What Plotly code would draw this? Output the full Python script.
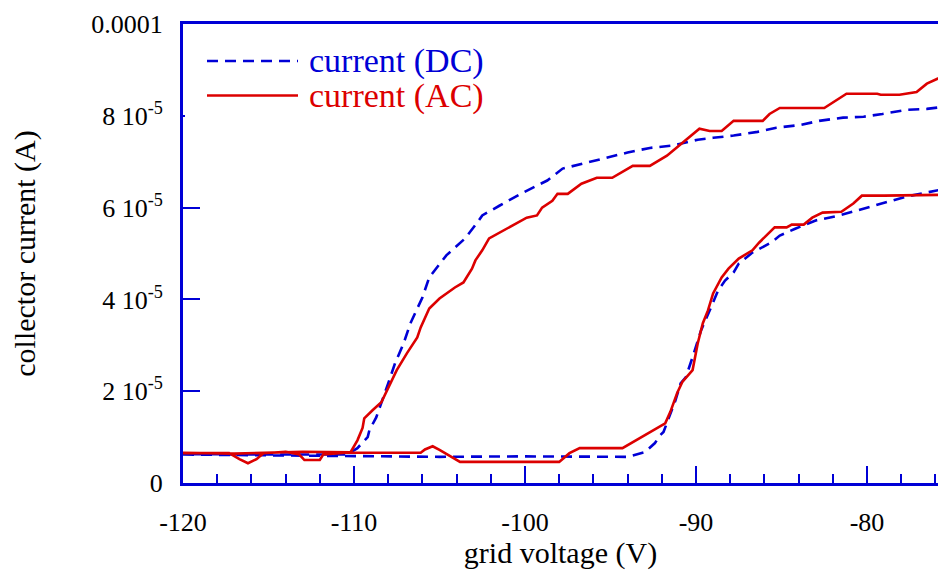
import plotly.graph_objects as go

# ---------------- data (current in units of 1e-5 A) ----------------
x_ticks = [-120, -110, -100, -90, -80]
x_ticktext = ["-120", "-110", "-100", "-90", "-80"]
y_tickvals = [0, 2e-5, 4e-5, 6e-5, 8e-5, 1e-4]
y_ticktext = ["0", "2 10<sup>-5</sup>", "4 10<sup>-5</sup>", "6 10<sup>-5</sup>",
              "8 10<sup>-5</sup>", "0.0001"]

# DC: increasing-voltage sweep
dc_up_v = [-120, -115, -110, -105, -100, -95, -94, -93.0, -92.4, -92.1, -91.9, -91.6,
           -91.2, -90.9, -90.6, -90.2, -89.7, -89.2, -88.7, -88.3, -87.8, -87.5, -86.7,
           -85.6, -85.1, -84.2, -83.0, -81.6, -80.2, -79.1, -77.7, -75.4]
dc_up_i = [0.62, 0.6, 0.58, 0.57, 0.58, 0.56, 0.57, 0.67, 0.87, 1.04, 1.11, 1.41,
           1.80, 2.17, 2.3, 2.74, 3.33, 3.76, 4.2, 4.41, 4.59, 4.78, 5.02,
           5.24, 5.39, 5.54, 5.72, 5.83, 5.98, 6.09, 6.24, 6.41]
# DC: decreasing-voltage sweep
dc_down_v = [-75.4, -76.5, -77.7, -79.1, -80.2, -81.4, -82.8, -83.9, -85.3, -86.4,
             -87.8, -89.0, -89.9, -91.4, -92.7, -94.0, -95.2, -96.4, -97.8, -98.7,
             -100.1, -101.5, -102.5, -102.8, -103.5, -104.6, -105.6, -106.0, -106.7,
             -107.1, -107.6, -108.0, -108.4, -108.7, -109.1, -109.2, -109.8, -110.4,
             -115, -120]
dc_down_i = [8.2, 8.15, 8.13, 8.04, 7.98, 7.96, 7.89, 7.8, 7.74, 7.65,
             7.57, 7.52, 7.48, 7.35, 7.3, 7.2, 7.09, 6.98, 6.85, 6.59,
             6.33, 6.04, 5.83, 5.67, 5.33, 4.96, 4.48, 4.04, 3.48,
             3.04, 2.61, 2.17, 1.74, 1.43, 1.15, 1.0, 0.76, 0.62,
             0.62, 0.63]

# AC: increasing-voltage sweep
ac_up_v = [-120, -117.3, -116.7, -116.2, -115.7, -115.3, -114.0, -113.2, -112.9, -112.0,
           -111.8, -110.5, -106.1, -105.85, -105.4, -105.0, -103.8, -98.0, -97.4, -96.8,
           -94.3, -93.7, -92.7, -91.8, -91.5, -91.1, -90.8, -90.2, -89.9, -89.6,
           -89.3, -89.0, -88.5, -88.1, -87.5, -86.7, -86.3, -85.4, -84.7, -84.4,
           -83.7, -83.2, -82.6, -81.5, -80.8, -80.3, -79.0, -75.4]
ac_up_i = [0.65, 0.65, 0.52, 0.43, 0.52, 0.65, 0.68, 0.62, 0.5, 0.5,
           0.62, 0.66, 0.66, 0.73, 0.8, 0.72, 0.46, 0.46, 0.65, 0.76,
           0.76, 0.89, 1.11, 1.30, 1.55, 1.96, 2.2, 2.46, 3.04, 3.48,
           3.76, 4.13, 4.48, 4.67, 4.89, 5.07, 5.24, 5.57, 5.57, 5.63,
           5.63, 5.78, 5.89, 5.91, 6.09, 6.26, 6.26, 6.28]
# AC: decreasing-voltage sweep
ac_down_v = [-75.4, -76.5, -77.1, -78.1, -79.2, -79.4, -81.2, -82.0, -82.5, -85.1,
             -85.7, -86.1, -87.8, -88.5, -89.2, -89.8, -90.5, -90.9, -91.7, -92.7,
             -93.7, -94.9, -95.8, -96.7, -97.5, -98.1, -98.4, -99.0, -99.3, -99.9,
             -100.9, -101.3, -102.1, -102.5, -102.9, -103.1, -103.6, -104.1, -105.0, -105.6,
             -106.1, -106.3, -106.9, -107.5, -108.0, -108.4, -108.9, -109.4, -109.5, -109.8,
             -110.2, -113.0, -117.0, -120]
ac_down_i = [8.89, 8.7, 8.52, 8.46, 8.46, 8.48, 8.48, 8.28, 8.17, 8.17,
             8.04, 7.89, 7.89, 7.67, 7.67, 7.72, 7.5, 7.39, 7.13, 6.91,
             6.91, 6.65, 6.65, 6.52, 6.3, 6.3, 6.15, 6.0, 5.83, 5.78,
             5.57, 5.5, 5.33, 5.07, 4.85, 4.67, 4.37, 4.26, 4.02, 3.8,
             3.39, 3.17, 2.83, 2.46, 2.09, 1.76, 1.59, 1.41, 1.2, 0.93,
             0.67, 0.68, 0.64, 0.66]

UNIT = 1e-5
BLUE = "#0000d6"
RED = "#dc0000"
FONT = "Liberation Serif, Times New Roman, serif"

dc_v = dc_up_v + dc_down_v
dc_i = [v * UNIT for v in dc_up_i + dc_down_i]
ac_v = ac_up_v + ac_down_v
ac_i = [v * UNIT for v in ac_up_i + ac_down_i]

fig = go.Figure()
fig.add_trace(go.Scatter(x=dc_v, y=dc_i, mode="lines", name="current (DC)",
                         line=dict(color=BLUE, width=2.6, dash="11px,7px"),
                         showlegend=False))
fig.add_trace(go.Scatter(x=ac_v, y=ac_i, mode="lines", name="current (AC)",
                         line=dict(color=RED, width=2.6),
                         showlegend=False))

# page body has an 8px margin: the figure sits at (8, 8) and fills the body width
FIG_W, FIG_H = 930, 562
ML, MT, MB = 175, 16, 87
PLOT_W = FIG_W - ML
fig.update_layout(
    width=FIG_W, height=FIG_H,
    margin=dict(l=ML, r=0, t=MT, b=MB),
    plot_bgcolor="white", paper_bgcolor="white",
    font=dict(family=FONT, color="black"),
    showlegend=False,
)

fig.update_xaxes(
    range=[-120, -120 + PLOT_W / 17.1], tickvals=x_ticks, ticktext=x_ticktext,
    ticks="inside", ticklen=17, tickwidth=2,
    tickcolor=BLUE, showline=True, linecolor=BLUE, linewidth=3, mirror=True,
    showgrid=False, zeroline=False, tickfont=dict(size=26, family=FONT),
    ticklabelstandoff=14,
    minor=dict(ticks="inside", ticklen=9, tickwidth=2, tickcolor=BLUE,
               tick0=-120, dtick=2, showgrid=False),
    title=dict(text="grid voltage (V)", font=dict(size=30, family=FONT), standoff=7),
)
fig.update_yaxes(
    range=[0, 1e-4], tickvals=y_tickvals, ticktext=y_ticktext, ticks="inside",
    ticklen=17, tickwidth=2, tickcolor=BLUE, showline=True, linecolor=BLUE,
    linewidth=3, mirror=False, showgrid=False, zeroline=False,
    tickfont=dict(size=26, family=FONT), ticklabelstandoff=12,
    title=dict(text="collector current (A)", font=dict(size=30, family=FONT), standoff=47),
)

# legend drawn by hand (long line samples like the original); positions in window px
def px_x(p):
    return (p - 183) / float(PLOT_W)

def px_y(p):
    return (483 - p) / 459.0

legend_items = [("current (DC)", BLUE, "11px,7px", 61), ("current (AC)", RED, "solid", 95.5)]
# white legend background hides the axis tick under it
fig.add_shape(type="rect", xref="paper", yref="paper", x0=px_x(185), x1=px_x(205),
              y0=px_y(126), y1=px_y(108), fillcolor="white", line=dict(width=0),
              layer="above")
for text, col, dash, ypx in legend_items:
    fig.add_shape(type="line", xref="paper", yref="paper", x0=px_x(207), x1=px_x(298),
                  y0=px_y(ypx), y1=px_y(ypx), line=dict(color=col, width=2.6, dash=dash))
    fig.add_annotation(text=text, xref="paper", yref="paper", x=px_x(307), y=px_y(ypx),
                       xanchor="left", yanchor="middle", showarrow=False,
                       font=dict(size=34, color=col, family=FONT))

fig.write_html("out.html")
